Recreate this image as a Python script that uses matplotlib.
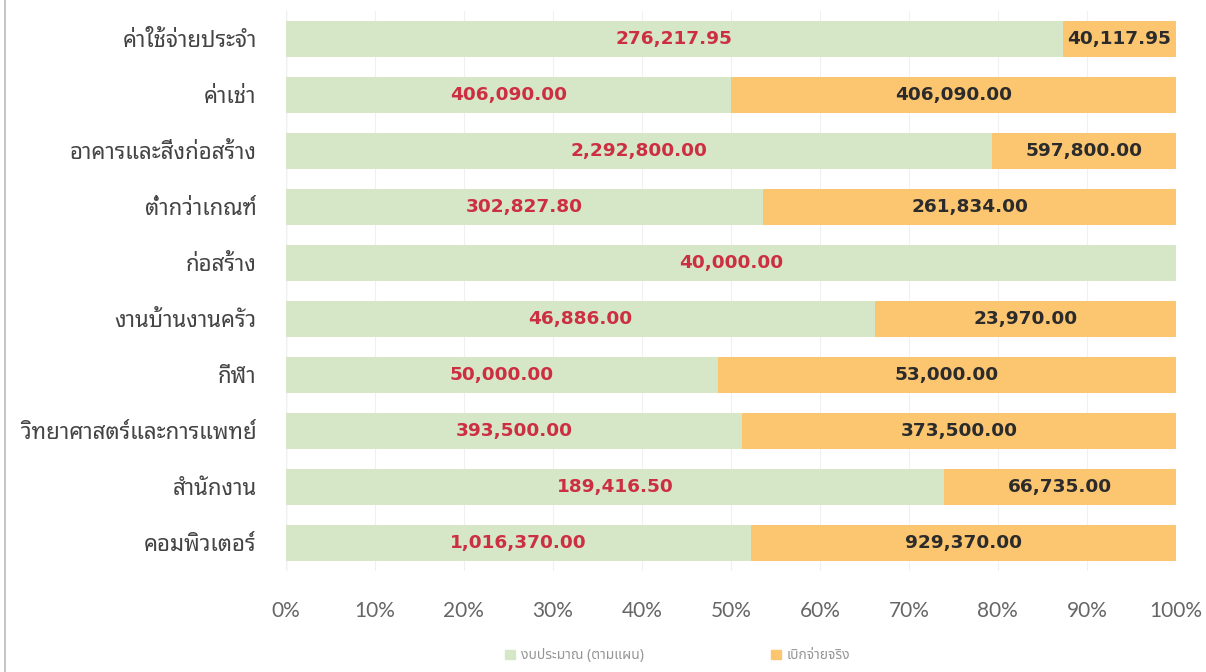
import matplotlib
matplotlib.use("Agg")
import matplotlib.pyplot as plt
from matplotlib.patches import Patch
import numpy as np

categories = ["ค่าใช้จ่ายประจำ", "ค่าเช่า", "อาคารและสิ่งก่อสร้าง", "ต่ำกว่าเกณฑ์", "ก่อสร้าง",
              "งานบ้านงานครัว", "กีฬา", "วิทยาศาสตร์และการแพทย์", "สำนักงาน", "คอมพิวเตอร์"]
budget = [276217.95, 406090.00, 2292800.00, 302827.80, 40000.00,
          46886.00, 50000.00, 393500.00, 189416.50, 1016370.00]
actual = [40117.95, 406090.00, 597800.00, 261834.00, 0.0,
          23970.00, 53000.00, 373500.00, 66735.00, 929370.00]
series_names = ["งบประมาณ (ตามแผน)", "เบิกจ่ายจริง"]
tick_labels = ["0%", "10%", "20%", "30%", "40%", "50%", "60%", "70%", "80%", "90%", "100%"]

plt.rcParams['font.family'] = ["Noto Sans Thai Looped", "Loma", "DejaVu Sans"]

fig = plt.figure(figsize=(12.06, 6.72), dpi=100)
ax = fig.add_axes([0.237, 0.151, 0.738, 0.8326])

b = np.array(budget)
a = np.array(actual)
tot = b + a
bp = b / tot * 100
ap = a / tot * 100
y = np.arange(len(categories))
green = "#d6e7c8"
orange = "#fcc671"
ax.barh(y, bp, height=0.645, color=green, zorder=2)
ax.barh(y, ap, left=bp, height=0.645, color=orange, zorder=2)
for i in range(len(categories)):
    ax.text(bp[i] / 2, y[i], f"{budget[i]:,.2f}", ha="center", va="center",
            color="#cc2f42", fontsize=13.3, fontweight="bold", family="DejaVu Sans", zorder=3)
    if actual[i] > 0:
        ax.text(bp[i] + ap[i] / 2, y[i], f"{actual[i]:,.2f}", ha="center", va="center",
                color="#2b2b2b", fontsize=13.3, fontweight="bold", family="DejaVu Sans", zorder=3)
ax.set_ylim(len(categories) - 0.5, -0.5)
ax.set_xlim(0, 100)
ax.set_yticks(y)
ax.set_yticklabels(categories, fontsize=16, color="#444444")
ax.set_xticks(np.arange(0, 101, 10))
ax.set_xticklabels(tick_labels, fontsize=15, color="#666666", family="Lato")
ax.tick_params(length=0)
ax.tick_params(axis="x", pad=22)
ax.tick_params(axis="y", pad=21)
for s in ax.spines.values():
    s.set_visible(False)
ax.grid(axis="x", color="#f0f0f0", lw=0.8, zorder=0)
ax.axvline(0, color="#e3e3e3", lw=1.0, zorder=1)

handles = [Patch(color=green), Patch(color=orange)]
leg = fig.legend(handles, series_names, loc="center", bbox_to_anchor=(0.562, 0.024), ncol=2,
                 frameon=False, labelcolor="#959595", handlelength=0.7, handleheight=0.7,
                 columnspacing=9.2, handletextpad=0.4,
                 prop={"family": ["Noto Sans Thai", "DejaVu Sans"], "size": 10})
fig.add_artist(plt.Line2D([0.0045, 0.0045], [0, 1], color="#bbbbbb", lw=1.2))
fig.savefig("out.png", dpi=100)
